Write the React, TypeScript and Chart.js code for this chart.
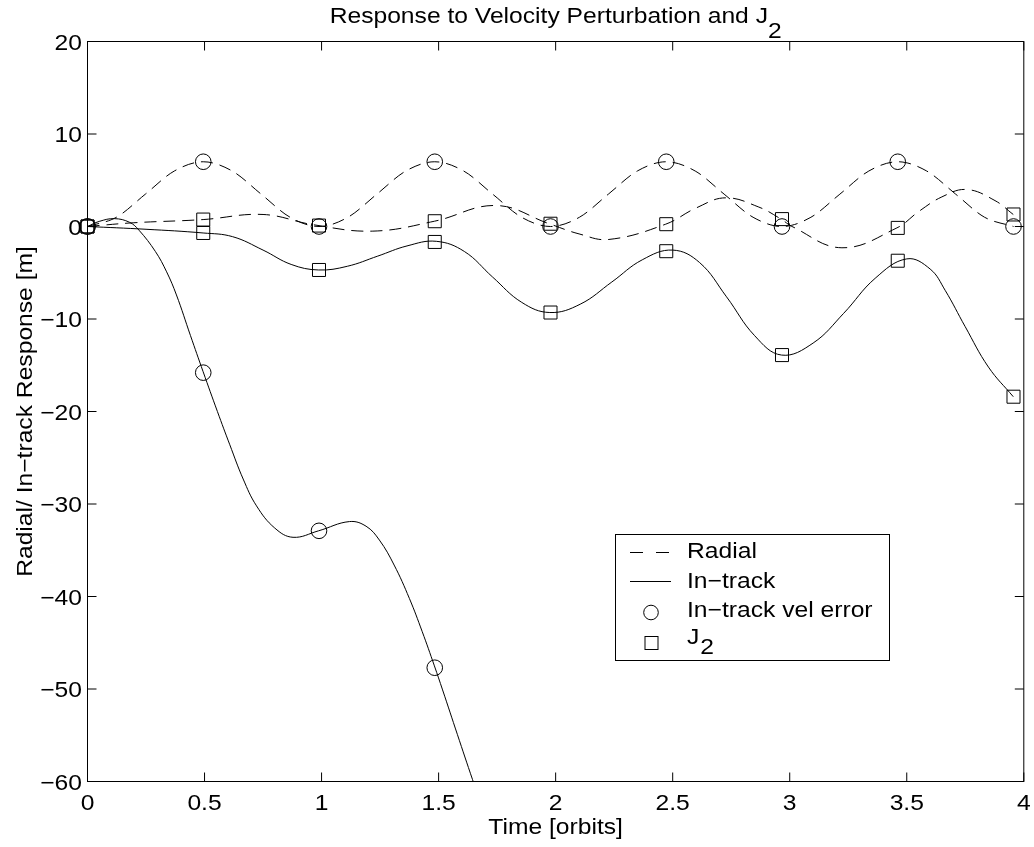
import React, { useEffect, useRef } from 'react';
import { Chart, registerables } from 'chart.js';

Chart.register(...registerables);

// ---------- text ----------
const titleMain = 'Response to Velocity Perturbation and J';
const titleSub = '2';
const xLabel = 'Time [orbits]';
const yLabel = 'Radial/ In\u2212track Response [m]';
const legendLabels = ['Radial', 'In\u2212track', 'In\u2212track vel error', 'J'];

// ---------- ticks ----------
const xTicks = [0, 0.5, 1, 1.5, 2, 2.5, 3, 3.5, 4];
const yTicks = [20, 10, 0, -10, -20, -30, -40, -50, -60];

// ---------- Radial response to in-track velocity error (dashed) ----------
const radialVelT = [0, 0.1236, 0.2473, 0.3709, 0.4945, 0.6181, 0.7418, 0.8654, 0.989,
  1.1126, 1.2363, 1.3599, 1.4835, 1.6071, 1.7308, 1.8544, 1.978,
  2.1016, 2.2253, 2.3489, 2.4725, 2.5961, 2.7198, 2.8434, 2.967,
  3.0906, 3.2143, 3.3379, 3.4615, 3.5851, 3.7088, 3.8324, 3.956];
const radialVelV = [0, 1.0, 3.5, 6.0, 7.0, 6.0, 3.5, 1.0, 0,
  1.0, 3.5, 6.0, 7.0, 6.0, 3.5, 1.0, 0,
  1.0, 3.5, 6.0, 7.0, 6.0, 3.5, 1.0, 0,
  1.0, 3.5, 6.0, 7.0, 6.0, 3.5, 1.0, 0];

// ---------- In-track response to in-track velocity error (solid) ----------
const inTrackVelT = [0, 0.05, 0.115, 0.18, 0.22, 0.29, 0.338, 0.38, 0.44, 0.494, 0.555, 0.608,
  0.665, 0.722, 0.8, 0.878, 0.987, 1.119, 1.19, 1.247, 1.31, 1.375, 1.43, 1.482, 1.517,
  1.58, 1.645, 1.75];
const inTrackVelV = [0, 0.55, 0.85, 0.45, -0.4, -2.7, -4.9, -7.4, -11.8, -15.7, -20.0, -23.6,
  -27.3, -30.2, -32.6, -33.6, -32.9, -31.9, -32.4, -33.9, -36.6, -40.2, -43.8, -47.5, -50.1,
  -54.9, -59.8, -67.5];

// ---------- Radial response to J2 (dashed) ----------
const radialJ2T = [0, 0.195, 0.494, 0.75, 0.963, 1.219, 1.482, 1.745, 1.972, 2.1, 2.228,
  2.47, 2.6, 2.726, 2.868, 2.963, 3.01, 3.223, 3.458, 3.55, 3.65, 3.756, 3.877, 3.955];
const radialJ2V = [0, 0.4, 0.75, 1.3, 0.2, -0.5, 0.57, 2.27, 0.3, -0.8, -1.4,
  0.25, 2.0, 3.1, 2.1, 0.8, 0.0, -2.3, -0.15, 1.6, 3.2, 4.0, 2.8, 1.3];

// ---------- In-track response to J2 (solid) ----------
const inTrackJ2T = [0, 0.25, 0.494, 0.62, 0.75, 0.87, 0.987, 1.11, 1.24, 1.365, 1.49,
  1.61, 1.73, 1.855, 1.975, 2.105, 2.24, 2.37, 2.5, 2.615, 2.73, 2.85, 2.965,
  3.1, 3.23, 3.365, 3.5, 3.6, 3.664, 3.749, 3.849, 3.955];
const inTrackJ2V = [0, -0.3, -0.7, -1.1, -2.55, -4.1, -4.7, -4.3, -3.2, -2.1, -1.6,
  -2.7, -5.45, -8.2, -9.3, -8.4, -6.0, -3.6, -2.55, -3.9, -7.6, -11.8, -13.9,
  -12.6, -9.4, -5.6, -3.5, -4.6, -6.9, -10.8, -15.2, -18.4];

// ---------- Markers ----------
const markerT = [0, 0.4945, 0.989, 1.4835, 1.978, 2.4725, 2.967, 3.4615, 3.956];
const radialVelMarkV = [0, 7, 0, 7, 0, 7, 0, 7, 0];
const inTrackVelMarkT = [0, 0.4945, 0.989, 1.4835];
const inTrackVelMarkV = [0, -15.8, -32.9, -47.7];
const radialJ2MarkV = [0, 0.75, 0.1, 0.57, 0.3, 0.25, 0.8, -0.15, 1.3];
const inTrackJ2MarkV = [0, -0.7, -4.7, -1.67, -9.3, -2.67, -13.9, -3.7, -18.4];

const FONT = '22px "Liberation Sans", Arial, Helvetica, sans-serif';
const SX = 1.12;
const TICK = 9;

const pts = (t: number[], v: number[]) => t.map((x, i) => ({ x, y: v[i] }));
const fmt = (v: number) => (v < 0 ? '\u2212' + String(Math.abs(v)) : String(v));

function drawText(ctx: CanvasRenderingContext2D, text: string, x: number, y: number, align: CanvasTextAlign) {
  ctx.save();
  ctx.translate(x, y);
  ctx.scale(SX, 1);
  ctx.textAlign = align;
  ctx.fillText(text, 0, 0);
  ctx.restore();
}
function measure(ctx: CanvasRenderingContext2D, text: string) {
  return ctx.measureText(text).width * SX;
}

const decor = {
  id: 'decor',
  beforeDraw(chart: any) {
    const { ctx, width, height } = chart;
    ctx.save();
    ctx.fillStyle = '#fff';
    ctx.fillRect(0, 0, width, height);
    ctx.restore();
  },
  afterDatasetsDraw(chart: any) {
    const { ctx, chartArea: a, scales } = chart;
    const xs = scales.x;
    const ys = scales.y;
    ctx.save();
    ctx.strokeStyle = '#000';
    ctx.lineWidth = 1;
    ctx.strokeRect(a.left, a.top, a.right - a.left, a.bottom - a.top);
    ctx.beginPath();
    for (const v of xTicks) {
      const px = xs.getPixelForValue(v);
      ctx.moveTo(px, a.bottom); ctx.lineTo(px, a.bottom - TICK);
      ctx.moveTo(px, a.top); ctx.lineTo(px, a.top + TICK);
    }
    for (const v of yTicks) {
      const py = ys.getPixelForValue(v);
      ctx.moveTo(a.left, py); ctx.lineTo(a.left + TICK, py);
      ctx.moveTo(a.right, py); ctx.lineTo(a.right - TICK, py);
    }
    ctx.stroke();

    ctx.fillStyle = '#000';
    ctx.font = FONT;
    ctx.textBaseline = 'alphabetic';
    for (const v of xTicks) drawText(ctx, fmt(v), xs.getPixelForValue(v), a.bottom + 28.5, 'center');
    for (const v of yTicks) drawText(ctx, fmt(v), a.left - 5.5, ys.getPixelForValue(v) + 8, 'right');

    const cx = (a.left + a.right) / 2;
    const wMain = measure(ctx, titleMain);
    const wSub = measure(ctx, titleSub);
    const sx = cx - (wMain + wSub) / 2;
    drawText(ctx, titleMain, sx, 23, 'left');
    drawText(ctx, titleSub, sx + wMain, 38, 'left');
    drawText(ctx, xLabel, cx, 834, 'center');
    ctx.save();
    ctx.translate(31.5, (a.top + a.bottom) / 2);
    ctx.rotate(-Math.PI / 2);
    drawText(ctx, yLabel, 0, 0, 'center');
    ctx.restore();

    // legend
    const L = 615.5, T = 534.5, W = 274, H = 126;
    ctx.fillStyle = '#fff';
    ctx.fillRect(L, T, W, H);
    ctx.strokeRect(L, T, W, H);
    ctx.beginPath();
    ctx.setLineDash([13, 13]);
    ctx.moveTo(630, 552.5); ctx.lineTo(670, 552.5);
    ctx.stroke();
    ctx.setLineDash([]);
    ctx.beginPath();
    ctx.moveTo(630, 581.5); ctx.lineTo(671, 581.5);
    ctx.stroke();
    ctx.beginPath();
    ctx.arc(651, 612.5, 7.3, 0, Math.PI * 2);
    ctx.stroke();
    ctx.strokeRect(645, 636.5, 13, 13);
    ctx.fillStyle = '#000';
    const tx = 687;
    drawText(ctx, legendLabels[0], tx, 558, 'left');
    drawText(ctx, legendLabels[1], tx, 588, 'left');
    drawText(ctx, legendLabels[2], tx, 617, 'left');
    drawText(ctx, legendLabels[3], tx, 644, 'left');
    drawText(ctx, '2', tx + measure(ctx, legendLabels[3]) + 1, 653.5, 'left');
    ctx.restore();
  },
};

export default function App() {
  const ref = useRef<HTMLCanvasElement>(null);
  useEffect(() => {
    const canvas = ref.current;
    if (!canvas) return;
    const lineBase = {
      borderColor: '#000',
      borderWidth: 1,
      pointRadius: 0,
      fill: false,
      tension: 0.4,
      order: 2,
    };
    const markBase = {
      showLine: false,
      pointBorderColor: '#000',
      pointBackgroundColor: 'rgba(0,0,0,0)',
      pointBorderWidth: 1,
      borderColor: '#000',
      clip: false as const,
      order: 0,
    };
    const chart = new Chart(canvas, {
      type: 'line',
      data: {
        datasets: [
          { ...lineBase, label: 'Radial vel', data: pts(radialVelT, radialVelV), borderDash: [12, 7], cubicInterpolationMode: 'monotone' },
          { ...lineBase, label: 'In-track vel', data: pts(inTrackVelT, inTrackVelV) },
          { ...lineBase, label: 'Radial J2', data: pts(radialJ2T, radialJ2V), borderDash: [12, 7] },
          { ...lineBase, label: 'In-track J2', data: pts(inTrackJ2T, inTrackJ2V) },
          { ...markBase, label: 'vel o radial', data: pts(markerT, radialVelMarkV), pointStyle: 'circle', pointRadius: 7.8 },
          { ...markBase, label: 'vel o in-track', data: pts(inTrackVelMarkT, inTrackVelMarkV), pointStyle: 'circle', pointRadius: 7.8 },
          { ...markBase, label: 'J2 sq radial', data: pts(markerT, radialJ2MarkV), pointStyle: 'rect', pointRadius: 9.2 },
          { ...markBase, label: 'J2 sq in-track', data: pts(markerT, inTrackJ2MarkV), pointStyle: 'rect', pointRadius: 9.2 },
        ] as any,
      },
      options: {
        responsive: false,
        animation: false,
        events: [],
        layout: { padding: { left: 87.5, right: 8.5, top: 41.5, bottom: 65.5 } },
        scales: {
          x: { type: 'linear', min: 0, max: 4, display: false },
          y: { type: 'linear', min: -60, max: 20, display: false },
        },
        plugins: {
          legend: { display: false },
          tooltip: { enabled: false },
          title: { display: false },
        },
      },
      plugins: [decor],
    });
    return () => chart.destroy();
  }, []);
  return (
    <div style={{ position: 'absolute', left: 0, top: 0, width: 1034, height: 847 }}>
      <canvas ref={ref} width={1034} height={847} style={{ display: 'block' }} />
    </div>
  );
}
